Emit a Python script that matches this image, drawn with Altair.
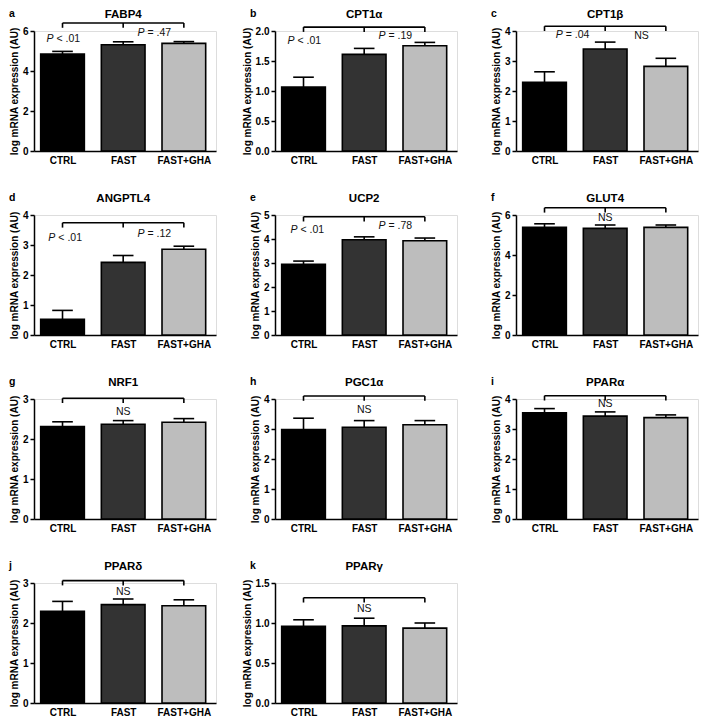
import altair as alt
import pandas as pd

groups = ["CTRL", "FAST", "FAST+GHA"]
bar_colors = ["#000000", "#333333", "#bdbdbd"]
letters = ["a", "b", "c", "d", "e", "f", "g", "h", "i", "j", "k"]
genes = ["FABP4", "CPT1α", "CPT1β", "ANGPTL4", "UCP2", "GLUT4",
         "NRF1", "PGC1α", "PPARα", "PPARδ", "PPARγ"]

mean_ctrl = [4.85, 1.065, 2.29, 0.52, 2.95, 5.38, 2.31, 2.98, 3.54, 2.29, 0.96]
mean_fast = [5.31, 1.61, 3.40, 2.42, 3.97, 5.33, 2.37, 3.06, 3.43, 2.46, 0.964]
mean_gha = [5.38, 1.755, 2.82, 2.86, 3.93, 5.38, 2.42, 3.14, 3.38, 2.43, 0.936]
top_ctrl = [4.98, 1.23, 2.64, 0.82, 3.08, 5.56, 2.43, 3.36, 3.68, 2.54, 1.04]
top_fast = [5.46, 1.71, 3.63, 2.65, 4.09, 5.50, 2.46, 3.28, 3.57, 2.60, 1.06]
top_gha = [5.47, 1.81, 3.09, 2.96, 4.04, 5.50, 2.51, 3.28, 3.47, 2.58, 1.00]

y_max = [6, 2, 4, 4, 5, 6, 3, 4, 4, 3, 1.5]
y_step = [2, 0.5, 1, 1, 1, 2, 1, 1, 1, 1, 0.5]
bracket_y = [6.4, 2.065, 4.16, 3.74, 4.93, 6.36, 3.02, 4.1, 4.11, 3.06, 1.316]

note_panel = [0, 0, 1, 1, 2, 2, 3, 3, 4, 4, 5, 6, 7, 8, 9, 10]
note_x = [0, 1.5, 0, 1.5, 0.45, 1.6, 0.03, 1.5, 0.05, 1.5, 1, 1, 1, 1, 1, 1]
note_y = [5.59, 5.91, 1.83, 1.92, 3.86, 3.84, 3.24, 3.36, 4.39, 4.55,
          5.87, 2.67, 3.65, 3.82, 2.77, 1.17]
note_text = ["P < .01", "P = .47", "P < .01", "P = .19", "P = .04", "NS",
             "P < .01", "P = .12", "P < .01", "P = .78", "NS", "NS", "NS",
             "NS", "NS", "NS"]

FONT = "Liberation Sans"
W, H = 182, 120
label_expr = "[" + ",".join("'%s'" % g for g in groups) + "][datum.value]"


def panel(i):
    bars = pd.DataFrame({
        "pos": [0, 1, 2],
        "group": groups,
        "mean": [mean_ctrl[i], mean_fast[i], mean_gha[i]],
        "top": [top_ctrl[i], top_fast[i], top_gha[i]],
    })
    xs = alt.Scale(domain=[-0.47, 2.53], nice=False, zero=False)
    ys = alt.Scale(domain=[0, y_max[i]], nice=False)
    n = int(round(y_max[i] / y_step[i]))
    tvals = [round(k * y_step[i], 2) for k in range(n + 1)]
    fmt = ".1f" if y_step[i] < 1 else "d"

    x_axis = alt.Axis(values=[0, 1, 2], labelExpr=label_expr, title=None,
                      ticks=False, grid=False, labelFontSize=10,
                      labelFontWeight="bold", labelFont=FONT,
                      labelColor="black", domainColor="black",
                      domainWidth=1.5, labelPadding=4, labelOverlap=False,
                      tickCount=10)
    y_axis = alt.Axis(values=tvals, format=fmt, tickCount=20,
                      title="log mRNA expression (AU)", grid=False,
                      labelFontSize=10, labelFontWeight="bold", labelFont=FONT,
                      labelColor="black", titleFontSize=10,
                      titleFontWeight="bold", titleFont=FONT,
                      titleColor="black", titlePadding=3, labelPadding=2,
                      domainColor="black", domainWidth=1.5,
                      tickColor="black", tickWidth=1.5, tickSize=4,
                      labelOverlap=False, labelFlush=False)

    base = alt.Chart(bars)
    bar = base.transform_calculate(
        x0="datum.pos - 0.36", x1="datum.pos + 0.36"
    ).mark_bar(stroke="black", strokeWidth=1.6).encode(
        x=alt.X("x0:Q", scale=xs, axis=x_axis),
        x2="x1:Q",
        y=alt.Y("mean:Q", scale=ys, axis=y_axis),
        y2=alt.datum(0),
        color=alt.Color("group:N", scale=alt.Scale(domain=groups, range=bar_colors),
                        legend=None),
    )
    stem = base.mark_rule(color="black", strokeWidth=1.6).encode(
        x="pos:Q", y="mean:Q", y2="top:Q")
    cap = base.transform_calculate(
        c0="datum.pos - 0.17", c1="datum.pos + 0.17"
    ).mark_rule(color="black", strokeWidth=1.6).encode(
        x="c0:Q", x2="c1:Q", y="top:Q")

    tick_len = 0.04 * y_max[i]
    br = pd.DataFrame({"x0": [0], "x1": [2], "y": [bracket_y[i]]})
    br_ticks = pd.DataFrame({"x": [0, 1, 2], "y": [bracket_y[i]] * 3,
                             "y2": [bracket_y[i] - tick_len] * 3})
    bracket = alt.Chart(br).mark_rule(color="black", strokeWidth=1.6).encode(
        x="x0:Q", x2="x1:Q", y="y:Q")
    bticks = alt.Chart(br_ticks).mark_rule(color="black", strokeWidth=1.6).encode(
        x="x:Q", y="y:Q", y2="y2:Q")

    rows = [k for k, p in enumerate(note_panel) if p == i]
    p_rows = [k for k in rows if note_text[k].startswith("P ")]
    ns_rows = [k for k in rows if not note_text[k].startswith("P ")]
    layers = [bar, stem, cap, bracket, bticks]
    if p_rows:
        pdf = pd.DataFrame({
            "x": [note_x[k] for k in p_rows],
            "y": [note_y[k] for k in p_rows],
            "p": ["P" for k in p_rows],
            "rest": ["\u00a0" + note_text[k][2:] for k in p_rows],
        })
        layers.append(alt.Chart(pdf).mark_text(
            align="right", baseline="middle", dx=-9, fontSize=10.5,
            fontStyle="italic", font=FONT, color="#111111"
        ).encode(x="x:Q", y="y:Q", text="p:N"))
        layers.append(alt.Chart(pdf).mark_text(
            align="left", baseline="middle", dx=-6, fontSize=10.5,
            font=FONT, color="#111111"
        ).encode(x="x:Q", y="y:Q", text="rest:N"))
    if ns_rows:
        ndf = pd.DataFrame({
            "x": [note_x[k] for k in ns_rows],
            "y": [note_y[k] for k in ns_rows],
            "t": [note_text[k] for k in ns_rows],
        })
        layers.append(alt.Chart(ndf).mark_text(
            align="center", baseline="middle", fontSize=10.5, font=FONT,
            color="#111111"
        ).encode(x="x:Q", y="y:Q", text="t:N"))

    head = pd.DataFrame({"letter": [letters[i]], "gene": [genes[i]]})
    layers.append(alt.Chart(head).mark_text(
        align="left", baseline="middle", fontSize=10.5, fontWeight="bold",
        font=FONT, color="black"
    ).encode(x=alt.value(-25), y=alt.value(-17), text="letter:N"))
    layers.append(alt.Chart(head).mark_text(
        align="center", baseline="middle", fontSize=11.5, fontWeight="bold",
        font=FONT, color="black"
    ).encode(x=alt.datum(1), y=alt.value(-16), text="gene:N"))

    return alt.layer(*layers).properties(width=W, height=H)


chart = alt.concat(
    *[panel(i) for i in range(len(genes))],
    columns=3,
    spacing={"row": 64, "column": 59},
    bounds="flush",
).properties(padding=0).configure_view(stroke=None).configure(background="white")

chart.save("out.html", embed_options={"renderer": "svg", "actions": False})
